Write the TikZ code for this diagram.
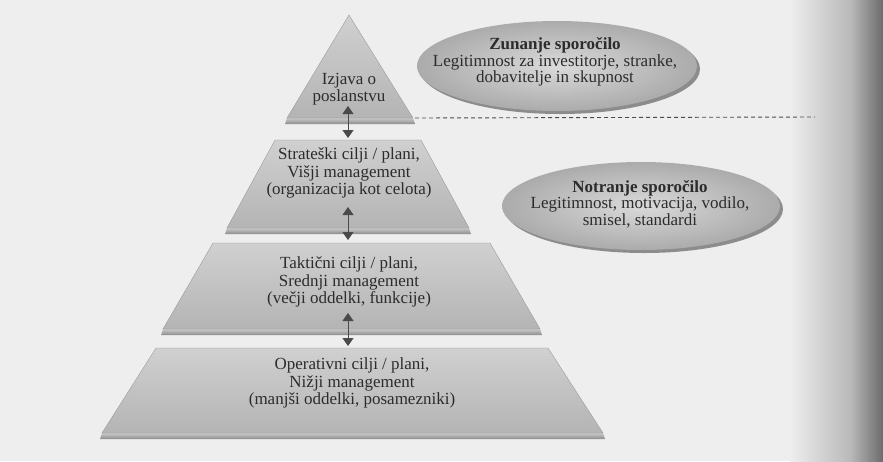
\documentclass[tikz,border=0pt]{standalone}
\usepackage{fontspec}
\setmainfont{Liberation Serif}
\usetikzlibrary{arrows.meta}

\definecolor{paper}{HTML}{EEEEEE}
\definecolor{ink}{HTML}{2C2C2C}
\definecolor{facetop}{HTML}{D0D0D0}
\definecolor{facebot}{HTML}{B4B4B4}
\definecolor{bandtop}{HTML}{C9C9C9}
\definecolor{bandbot}{HTML}{8C8C8C}
\definecolor{ovalin}{HTML}{DADADA}
\definecolor{ovalout}{HTML}{ABABAB}
\definecolor{arrowgray}{HTML}{4A4A4A}

\tikzset{
  slabface/.style={top color=facetop, bottom color=facebot, draw=facebot!80!black, line width=0.3pt},
  slabband/.style={top color=bandtop, bottom color=bandbot, draw=none},
  levellabel/.style={align=center, text=ink, font=\fontsize{17}{17.5}\selectfont, inner sep=0pt},
  msglabel/.style={align=center, text=ink, font=\fontsize{17}{16.5}\selectfont, inner sep=0pt},
  msgshape/.style={inner color=ovalin, outer color=ovalout, draw=none},
  msgshadow/.style={fill=bandbot, draw=none},
  linkarrow/.style={draw=arrowgray, line width=0.9pt,
    {Triangle[width=11pt,length=8pt]}-{Triangle[width=11pt,length=8pt]}},
  divider/.style={draw=arrowgray, line width=0.9pt, dash pattern=on 4pt off 3pt}
}

\begin{document}
\begin{tikzpicture}[x=1pt,y=-1pt]
  % page background with the darkened fold on the right
  \fill[paper] (0,0) rectangle (883,461);
  \shade[left color=paper, right color=paper!78!black, draw=none] (790,0) rectangle (850,461);
  \shade[left color=paper!78!black, right color=black!58, draw=none] (850,0) rectangle (883,461);
  \useasboundingbox (0,0) rectangle (883,461);

  % pyramid levels: top face plus a darker edge band below
  \shade[slabband] (287,118) -- (413,118) -- (415,124) -- (285,124) -- cycle;
  \shade[slabface] (349,15) -- (413,118) -- (287,118) -- cycle;

  \shade[slabband] (227,228) -- (469,228) -- (471,234) -- (225,234) -- cycle;
  \shade[slabface] (275,140) -- (421,140) -- (469,228) -- (227,228) -- cycle;

  \shade[slabband] (163,329) -- (540,329) -- (542,335) -- (161,335) -- cycle;
  \shade[slabface] (213,243) -- (490,243) -- (540,329) -- (163,329) -- cycle;

  \shade[slabband] (102,433) -- (603,433) -- (605,439) -- (100,439) -- cycle;
  \shade[slabface] (156,348) -- (548,348) -- (603,433) -- (102,433) -- cycle;

  % level texts
  \node[levellabel] (mission)     at (349,89)  {Izjava o\\poslanstvu};
  \node[levellabel] (strategic)   at (349,173) {Strateški cilji / plani,\\Višji management\\(organizacija kot celota)};
  \node[levellabel] (tactical)    at (349,282) {Taktični cilji / plani,\\Srednji management\\(večji oddelki, funkcije)};
  \node[levellabel] (operational) at (352,383) {Operativni cilji / plani,\\Nižji management\\(manjši oddelki, posamezniki)};

  % links between the levels
  \coordinate (l1a) at (348,106);
  \coordinate (l1b) at (348,138);
  \coordinate (l2a) at (348,207);
  \coordinate (l2b) at (348,240);
  \coordinate (l3a) at (348,313);
  \coordinate (l3b) at (348,346);
  \draw[linkarrow] (l1a) -- (l1b);
  \draw[linkarrow] (l2a) -- (l2b);
  \draw[linkarrow] (l3a) -- (l3b);

  % boundary between external and internal messages
  \coordinate (divstart) at (415,118);
  \coordinate (divend) at (815,117);
  \draw[divider] (divstart) -- (divend);

  % message ellipses
  \fill[msgshadow] (560,69) ellipse [x radius=140, y radius=45];
  \shade[msgshape] (557,66) ellipse [x radius=140, y radius=45];
  \fill[msgshadow] (644,209) ellipse [x radius=139, y radius=44];
  \shade[msgshape] (641,206) ellipse [x radius=139, y radius=44];

  \node[msglabel] (external) at (555,62) {\textbf{Zunanje sporočilo}\\Legitimnost za investitorje, stranke,\\dobavitelje in skupnost};
  \node[msglabel] (internal) at (640,204) {\textbf{Notranje sporočilo}\\Legitimnost, motivacija, vodilo,\\smisel, standardi};
\end{tikzpicture}
\end{document}
